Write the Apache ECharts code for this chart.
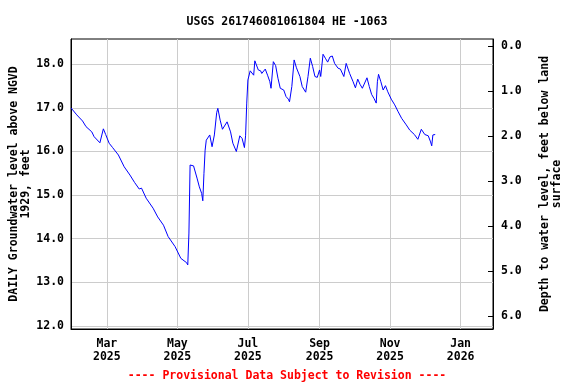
<!DOCTYPE html>
<html><head><meta charset="utf-8">
<script src="https://cdn.jsdelivr.net/npm/echarts@6/dist/echarts.min.js"></script>
<style>html,body{margin:0;padding:0;background:#fff}#c{width:576px;height:384px}</style>
</head><body><div id="c"></div>
<script>
const titleText = 'USGS 261746081061804 HE -1063';
const footerText = '---- Provisional Data Subject to Revision ----';
const leftAxisName = 'DAILY Groundwater level above NGVD\n1929, feet';
const rightAxisName = 'Depth to water level, feet below land\nsurface';
const xTickDates = ['2025-03-01','2025-05-01','2025-07-01','2025-09-01','2025-11-01','2026-01-01'];
const monthNames = ['Jan','Feb','Mar','Apr','May','Jun','Jul','Aug','Sep','Oct','Nov','Dec'];
const leftTicks = [12,13,14,15,16,17,18];
const rightTicks = [0,1,2,3,4,5,6];
const dates = ['2025-01-29','2025-02-03','2025-02-08','2025-02-11','2025-02-16','2025-02-18','2025-02-23','2025-02-26','2025-02-28',
'2025-03-03','2025-03-06','2025-03-11','2025-03-16','2025-03-21','2025-03-25','2025-03-29','2025-03-31',
'2025-04-04','2025-04-10','2025-04-14','2025-04-19','2025-04-23','2025-04-29',
'2025-05-04','2025-05-09','2025-05-10','2025-05-11','2025-05-12','2025-05-13','2025-05-15','2025-05-18','2025-05-20','2025-05-22','2025-05-23','2025-05-24','2025-05-25','2025-05-26','2025-05-29','2025-05-31',
'2025-06-02','2025-06-04','2025-06-05','2025-06-07','2025-06-09','2025-06-13','2025-06-16','2025-06-18','2025-06-21','2025-06-24','2025-06-26','2025-06-28','2025-06-29','2025-06-30',
'2025-07-01','2025-07-03','2025-07-06','2025-07-07','2025-07-08','2025-07-10','2025-07-12','2025-07-13','2025-07-16','2025-07-18','2025-07-20','2025-07-21','2025-07-23','2025-07-25','2025-07-27','2025-07-29',
'2025-08-01','2025-08-03','2025-08-05','2025-08-06','2025-08-08','2025-08-10','2025-08-12','2025-08-15','2025-08-17','2025-08-20','2025-08-22','2025-08-24','2025-08-26','2025-08-28','2025-08-30',
'2025-09-01','2025-09-02','2025-09-04','2025-09-06','2025-09-08','2025-09-10','2025-09-12','2025-09-14','2025-09-17','2025-09-19','2025-09-22','2025-09-24','2025-09-27','2025-09-30',
'2025-10-02','2025-10-04','2025-10-06','2025-10-08','2025-10-12','2025-10-14','2025-10-16','2025-10-18','2025-10-20','2025-10-21','2025-10-22','2025-10-24','2025-10-26','2025-10-28','2025-10-30',
'2025-11-02','2025-11-05','2025-11-08','2025-11-11','2025-11-15','2025-11-18','2025-11-22','2025-11-25','2025-11-28',
'2025-12-01','2025-12-04','2025-12-06','2025-12-07','2025-12-08','2025-12-10'];
const levels = [17.00,16.84,16.70,16.57,16.45,16.34,16.20,16.52,16.39,
16.19,16.09,15.92,15.65,15.46,15.29,15.14,15.16,
14.93,14.70,14.50,14.31,14.05,13.82,
13.55,13.45,13.40,14.13,15.69,15.71,15.67,15.39,15.19,15.04,14.87,15.50,16.03,16.26,16.38,16.11,
16.38,16.89,16.99,16.72,16.51,16.68,16.45,16.19,16.00,16.36,16.30,16.09,16.36,17.11,
17.64,17.85,17.75,18.08,18.12,17.87,17.85,17.79,17.89,17.75,17.60,17.45,18.06,17.97,17.68,17.45,
17.41,17.26,17.20,17.14,17.49,18.10,17.92,17.72,17.49,17.36,17.72,18.14,17.95,17.72,17.70,
17.87,17.72,18.23,18.14,18.05,18.17,18.19,18.02,17.91,17.89,17.72,18.02,17.79,17.60,
17.46,17.66,17.54,17.45,17.69,17.49,17.31,17.22,17.11,17.60,17.77,17.60,17.41,17.51,17.37,
17.20,17.07,16.91,16.76,16.61,16.49,16.39,16.28,16.51,
16.39,16.36,16.22,16.13,16.38,16.39];

const FONT = '"DejaVu Sans Mono", monospace';
const txt = {fontFamily: FONT, fontWeight: 'bold', fontSize: 11.5, color: '#000'};
const xMin = Date.parse('2025-01-29'), xMax = Date.parse('2026-01-29');
const xTicks = xTickDates.map(d => Date.parse(d));
const seriesData = dates.map((d, i) => [Date.parse(d), levels[i]]);

const chart = echarts.init(document.getElementById('c'), null, {renderer: 'canvas'});
chart.setOption({
  animation: false,
  backgroundColor: '#fff',
  title: [
    {text: titleText, left: 282, top: 11, textAlign: 'center', textStyle: Object.assign({}, txt)},
    {text: footerText, left: 282, top: 365, textAlign: 'center', textStyle: Object.assign({}, txt, {color: '#ff0000'})}
  ],
  grid: {left: 71, right: 83, top: 39, bottom: 55, containLabel: false, outerBoundsMode: 'none',
         show: true, borderColor: '#000', borderWidth: 1, backgroundColor: 'transparent'},
  xAxis: {
    type: 'value', min: xMin, max: xMax,
    axisLine: {show: true, onZero: false, lineStyle: {color: '#000', width: 1}},
    axisTick: {show: false, customValues: xTicks},
    splitLine: {show: true, lineStyle: {color: '#cccccc', width: 1}},
    axisLabel: Object.assign({}, txt, {customValues: xTicks, margin: 9, lineHeight: 13,
      formatter: v => { const d = new Date(v); return monthNames[d.getUTCMonth()] + '\n' + d.getUTCFullYear(); }})
  },
  yAxis: [
    {type: 'value', min: 11.93, max: 18.58, position: 'left',
     name: leftAxisName, nameLocation: 'middle', nameGap: 39, nameRotate: 90, nameMoveOverlap: false,
     nameTextStyle: Object.assign({}, txt, {lineHeight: 12}),
     axisLine: {show: true, onZero: false, lineStyle: {color: '#000'}},
     axisTick: {show: false, customValues: leftTicks},
     splitLine: {show: true, lineStyle: {color: '#cccccc', width: 1}},
     axisLabel: Object.assign({}, txt, {customValues: leftTicks, margin: 7, formatter: v => v.toFixed(1)})
    },
    {type: 'value', min: -0.16, max: 6.29, inverse: true, position: 'right',
     name: rightAxisName, nameLocation: 'middle', nameGap: 46, nameRotate: 90, nameMoveOverlap: false,
     nameTextStyle: Object.assign({}, txt, {lineHeight: 12}),
     axisLine: {show: true, onZero: false, lineStyle: {color: '#000'}},
     axisTick: {show: true, inside: true, length: 5, customValues: rightTicks, lineStyle: {color: '#000'}},
     splitLine: {show: false},
     axisLabel: Object.assign({}, txt, {customValues: rightTicks, margin: 8, formatter: v => v.toFixed(1)})
    }
  ],
  series: [{
    type: 'line', data: seriesData, yAxisIndex: 0, showSymbol: false, symbol: 'none',
    lineStyle: {color: '#0000ff', width: 1}, silent: true
  }]
});
</script></body></html>
